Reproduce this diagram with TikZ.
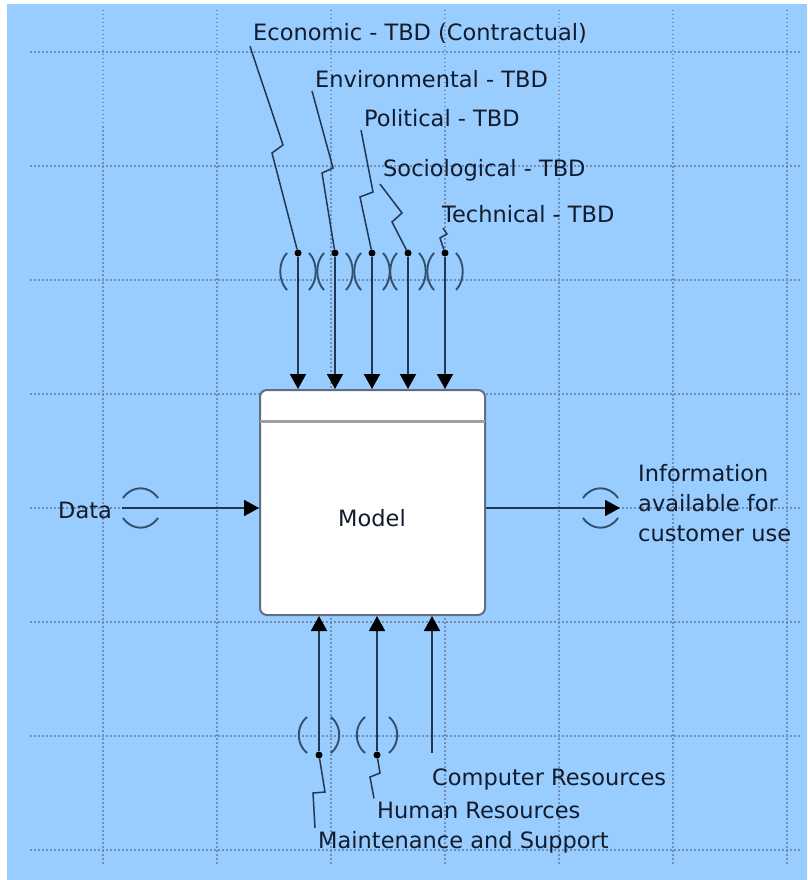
\documentclass[tikz,border=0pt]{standalone}
\usepackage{fontspec}
\setmainfont{DejaVu Sans}
\usetikzlibrary{arrows.meta}

\begin{document}
\begin{tikzpicture}[x=1pt,y=-1pt,
    lbl/.style={anchor=west,inner sep=3pt,text=textc,font=\fontsize{22.5}{30}\selectfont},
    arr/.style={draw=linec,line width=1.8pt,-{Triangle[length=15pt,width=16pt,color=black]}},
    lead/.style={draw=linec,line width=1.5pt},
    tun/.style={draw=tunc,line width=1.9pt},
    gridline/.style={draw=gridc,dash pattern=on 1.5pt off 2.5pt,line width=1.3pt},
    dotnode/.style={circle,fill=black,inner sep=0pt,minimum size=7pt}]

    % colours
    \definecolor{bgc}{RGB}{153,204,255}
    \definecolor{gridc}{RGB}{112,142,180}
    \definecolor{linec}{RGB}{35,55,80}
    \definecolor{tunc}{RGB}{50,80,110}
    \definecolor{textc}{RGB}{18,28,45}
    \definecolor{boxc}{RGB}{95,110,128}

    % background and grid
    \useasboundingbox (0,0) rectangle (807,880);
    \fill[white] (0,0) rectangle (807,880);
    \fill[bgc] (7,4) rectangle (807,880);
    \foreach \x in {103,217,...,787} {
        \draw[gridline] (\x,10) -- (\x,866);
    }
    \foreach \y in {52,166,...,850} {
        \draw[gridline] (30,\y) -- (802,\y);
    }

    % the activity box
    \node[draw=boxc,line width=2pt,fill=white,rounded corners=7pt,
          minimum width=225pt,minimum height=225pt,inner sep=0pt] (model) at (372.5,502.5) {};
    \draw[gray!75,line width=3pt] ([xshift=1pt,yshift=-32pt]model.north west) -- ([xshift=-1pt,yshift=-32pt]model.north east);
    \node[lbl,anchor=center] (mname) at (372,518) {Model};

    % controls (top)
    \node[lbl] (econ) at (250,33) {Economic - TBD (Contractual)};
    \node[lbl] (envir) at (312,79) {Environmental - TBD};
    \node[lbl] (polit) at (361,118) {Political - TBD};
    \node[lbl] (socio) at (380,170) {Sociological - TBD};
    \node[lbl] (techn) at (439,214) {Technical - TBD};

    \foreach \x in {298,335,372,408,445} {
        \draw[tun] (\x-11,253) .. controls (\x-20,262) and (\x-20,281) .. (\x-11,290);
        \draw[tun] (\x+11,253) .. controls (\x+20,262) and (\x+20,281) .. (\x+11,290);
    }
    \foreach \n/\x in {1/298,2/335,3/372,4/408,5/445} {
        \node[dotnode] (d\n) at (\x,253) {};
        \draw[arr] (d\n) -- (d\n |- model.north);
    }

    \draw[lead] (econ.south west) -- (283,145) -- (272,153) -- (d1);
    \draw[lead] (envir.south west) -- (333,168) -- (322,173) -- (d2);
    \draw[lead] (polit.south west) -- (373,192) -- (360,197) -- (d3);
    \draw[lead] (socio.south west) -- (402,213) -- (392,222) -- (d4);
    \draw[lead] (443,228) -- (447,234) -- (440,238) -- (d5);

    % input
    \node[lbl] (data) at (55,510) {Data};
    \coordinate (din) at (122,508);
    \draw[tun] (123,498) .. controls (132,485) and (149,485) .. (158,498);
    \draw[tun] (123,518) .. controls (132,531) and (149,531) .. (158,518);
    \draw[arr] (din) -- (din -| model.west);

    % output
    \coordinate (dout) at (620,508);
    \draw[tun] (583,498) .. controls (592,485) and (609,485) .. (618,498);
    \draw[tun] (583,518) .. controls (592,531) and (609,531) .. (618,518);
    \draw[arr] (dout -| model.east) -- (dout);
    \node[lbl,align=left] (info) at (635,503) {Information\\available for\\customer use};

    % mechanisms (bottom)
    \node[lbl] (comp) at (429,779) {Computer Resources};
    \node[lbl] (human) at (374,810) {Human Resources};
    \node[lbl] (maint) at (315,842) {Maintenance and Support};

    \foreach \x in {319,377} {
        \draw[tun] (\x-12,717) .. controls (\x-23,726) and (\x-23,744) .. (\x-12,753);
        \draw[tun] (\x+12,717) .. controls (\x+23,726) and (\x+23,744) .. (\x+12,753);
    }
    \foreach \n/\x in {6/319,7/377} {
        \node[dotnode] (d\n) at (\x,755) {};
        \draw[arr] (d\n) -- (d\n |- model.south);
    }
    \coordinate (d8) at (432,753);
    \draw[arr] (d8) -- (d8 |- model.south);

    \draw[lead] (d6) -- (325,792) -- (313,793) -- (maint.north west);
    \draw[lead] (d7) -- (380,773) -- (370,777) -- (human.north west);

\end{tikzpicture}
\end{document}
